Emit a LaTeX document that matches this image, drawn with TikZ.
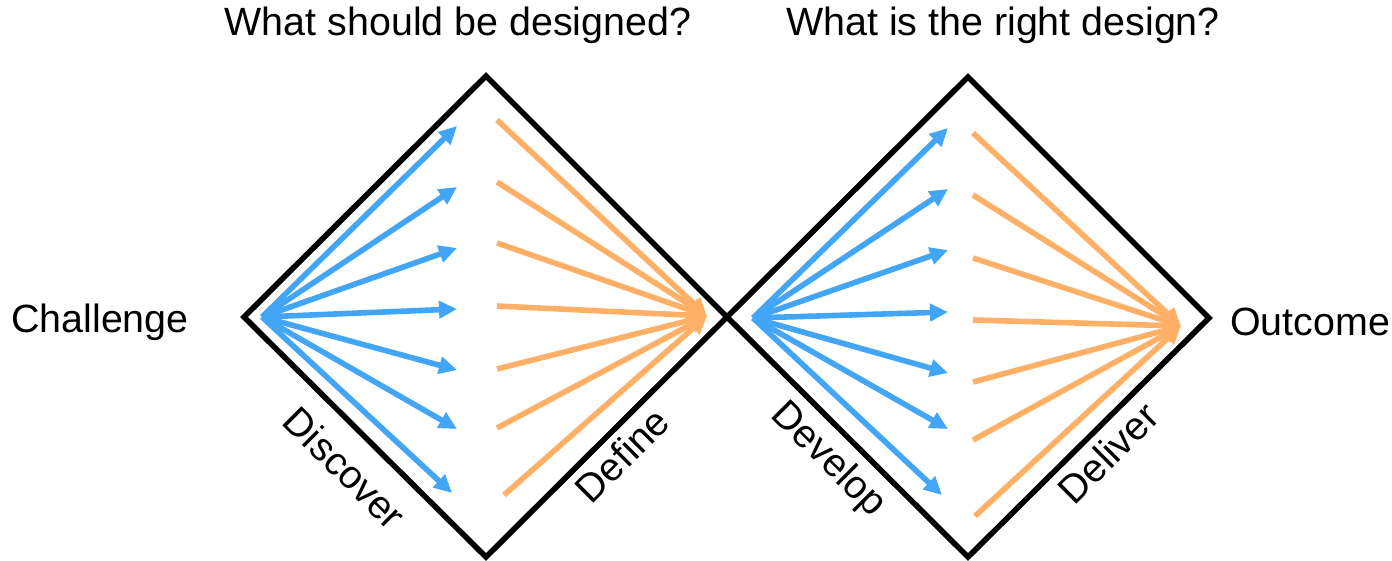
\documentclass[tikz,border=0pt]{standalone}
\usepackage{fontspec}
\setmainfont{Liberation Sans}
\usetikzlibrary{arrows.meta}
\definecolor{dblue}{RGB}{66,165,245}
\definecolor{dorange}{RGB}{255,176,103}
\tikzset{
  frame/.style={line width=2.8pt, line join=miter},
  bluearrow/.style={dblue, line width=2.8pt, -{Triangle[length=9pt,width=8.5pt]}},
  orangearrow/.style={dorange, line width=2.8pt, -{Triangle[length=9pt,width=8.5pt]}},
  lbl/.style={font=\fontsize{19.7}{23}\selectfont, inner sep=0pt}
}
\begin{document}
\begin{tikzpicture}[x=0.5pt,y=-0.5pt]
\useasboundingbox (0,0) rectangle (1392,561);
% diamonds
\coordinate (L1) at (244,317);
\coordinate (T1) at (486,76);
\coordinate (R1) at (727,317);
\coordinate (B1) at (486,557);
\coordinate (T2) at (968,77);
\coordinate (R2) at (1209,318);
\coordinate (B2) at (968,557);
\draw[frame] (L1) -- (T1) -- (R1) -- (B1) -- cycle;
\draw[frame] (R1) -- (T2) -- (R2) -- (B2) -- cycle;
% first diamond fans
\coordinate (O1) at (262,317);
\coordinate (F1) at (707,316);
\foreach \i/\x/\y in {1/457/126,2/457/187,3/457/248,4/457/309,5/457/370,6/457/429,7/452/493}{
  \coordinate (ba\i) at (\x,\y);
  \draw[bluearrow] (O1) -- (ba\i);
}
\foreach \i/\x/\y in {1/497/120,2/497/182,3/497/243,4/497/306,5/497/369,6/497/428,7/504/495}{
  \coordinate (oa\i) at (\x,\y);
  \draw[orangearrow] (oa\i) -- (F1);
}
% second diamond fans
\coordinate (O2) at (753,318);
\coordinate (F2) at (1181,326);
\foreach \i/\x/\y in {1/948/128,2/948/189,3/948/250,4/948/312,5/948/373,6/948/429,7/942/495}{
  \coordinate (bb\i) at (\x,\y);
  \draw[bluearrow] (O2) -- (bb\i);
}
\foreach \i/\x/\y in {1/973/133,2/973/195,3/973/258,4/973/320,5/973/382,6/973/440,7/975/516}{
  \coordinate (ob\i) at (\x,\y);
  \draw[orangearrow] (ob\i) -- (F2);
}
% labels
\node[lbl] (q1) at (458,25) {What should be designed?};
\node[lbl] (q2) at (1003,25) {What is the right design?};
\node[lbl] (ch) at (100,322) {Challenge};
\node[lbl] (oc) at (1310,322) {Outcome};
\node[lbl, rotate=-45] (disc) at (345,468) {Discover};
\node[lbl, rotate=45] (def) at (622,455) {Define};
\node[lbl, rotate=-45] (dev) at (828,460) {Develop};
\node[lbl, rotate=45] (del) at (1108,453) {Deliver};
\end{tikzpicture}
\end{document}
